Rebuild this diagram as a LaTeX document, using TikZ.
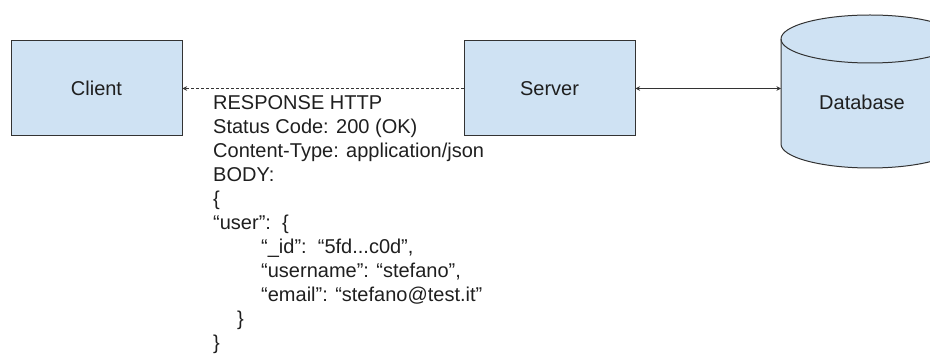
\documentclass[tikz,border=0pt]{standalone}
\usepackage{fontspec}
\setmainfont{Liberation Sans}
\usetikzlibrary{arrows.meta}
\definecolor{boxfill}{HTML}{CFE2F3}
\definecolor{ink}{HTML}{1F1F1F}
\definecolor{edge}{HTML}{333333}
\begin{document}
\begin{tikzpicture}[x=1pt,y=1pt,
  labelfont/.style={font=\fontsize{20}{24}\selectfont, text=ink},
  box/.style={draw=edge, line width=1pt, fill=boxfill, minimum width=171pt,
    minimum height=95pt, inner sep=0pt, labelfont},
  oneway/.style={-{Stealth[length=4.5pt,width=4.5pt]}},
  twoway/.style={{Stealth[length=4.5pt,width=4.5pt]}-{Stealth[length=4.5pt,width=4.5pt]}},
  link/.style={draw=edge, line width=1pt}]
\useasboundingbox (0,0) rectangle (930,-355);
\clip (0,0) rectangle (930,-355);

% client and server boxes
\node[box] (client) at (96.5,-88.5) {Client};
\node[box] (server) at (549.5,-88.5) {Server};

% database cylinder
\path[draw=edge, line width=1pt, fill=boxfill]
  (781,-39) -- (781,-144)
  arc[start angle=180, end angle=360, x radius=89, y radius=24]
  -- (959,-39)
  arc[start angle=0, end angle=180, x radius=89, y radius=24] -- cycle;
\draw[edge, line width=1pt] (781,-39)
  arc[start angle=180, end angle=360, x radius=89, y radius=24];
\node[labelfont] (db) at (862,-102) {Database};
\coordinate (dbside) at (781,-88.5);

% connectors
\draw[link, dash pattern=on 3pt off 2pt, oneway] (server.west) -- (client.east);
\draw[link, twoway] (server.east) -- (dbside);

% response message
\node[labelfont, anchor=north west, inner sep=0pt, align=left] (resp) at (213,-95.5)
  {RESPONSE HTTP\\
   Status Code: 200 (OK)\\
   Content-Type: application/json\\
   BODY:\\
   \{\\
   “user”:~~\{\\
   \hspace*{48pt}“\_id”:~~“5fd...c0d”,\\
   \hspace*{48pt}“username”: “stefano”,\\
   \hspace*{48pt}“email”: “stefano@test.it”\\
   \hspace*{24pt}\}\\
   \}};
\end{tikzpicture}
\end{document}
